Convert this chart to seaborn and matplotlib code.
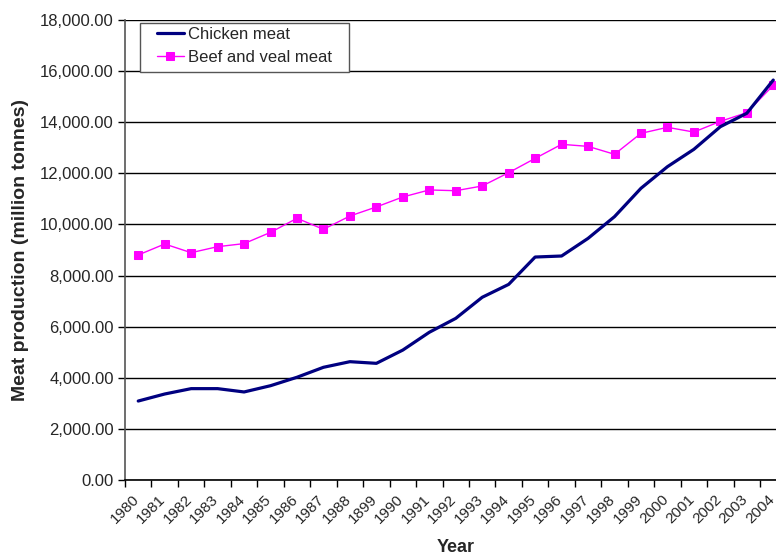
import matplotlib
matplotlib.use("Agg")
import matplotlib.pyplot as plt
import matplotlib.transforms as mtransforms
from matplotlib.patches import Rectangle
import seaborn as sns
import pandas as pd
import numpy as np
from matplotlib.ticker import FuncFormatter

years = ["1980", "1981", "1982", "1983", "1984", "1985", "1986", "1987", "1988", "1899",
         "1990", "1991", "1992", "1993", "1994", "1995", "1996", "1997", "1998", "1999",
         "2000", "2001", "2002", "2003", "2004"]
chicken = [3090, 3365, 3575, 3575, 3445, 3690, 4020, 4410, 4630, 4565,
           5085, 5780, 6325, 7150, 7655, 8725, 8765, 9455, 10305, 11415,
           12260, 12940, 13825, 14350, 15650]
beef = [8805, 9235, 8895, 9130, 9250, 9690, 10240, 9810, 10330, 10685,
        11075, 11350, 11320, 11505, 12025, 12585, 13135, 13055, 12745, 13565,
        13800, 13615, 14035, 14375, 15445]

sns.set_style("white")
plt.rcParams['font.family'] = ['Liberation Sans', 'DejaVu Sans']

pos = np.arange(len(years)) + 0.5
df = pd.DataFrame({
    "pos": np.concatenate([pos, pos]),
    "value": chicken + beef,
    "series": ["Chicken meat"] * len(years) + ["Beef and veal meat"] * len(years),
})

fig = plt.figure(figsize=(7.76, 5.56), dpi=100)
W, H = 776, 556
cat_w = 26.46
left_px, bottom_px, top_px = 125, 480, 20
ax = fig.add_axes([left_px / W, (H - bottom_px) / H, cat_w * len(years) / W, (bottom_px - top_px) / H])

sns.lineplot(data=df[df.series == "Chicken meat"], x="pos", y="value", ax=ax,
             color="#000080", linewidth=2.3, label="Chicken meat", zorder=4)
sns.lineplot(data=df[df.series == "Beef and veal meat"], x="pos", y="value", ax=ax,
             color="#FF00FF", linewidth=1.0, marker="s", markersize=5.5,
             markeredgecolor="#FF00FF", label="Beef and veal meat", zorder=3)

ax.set_xlim(0, len(years))
ax.set_ylim(0, 18000)
ax.set_yticks(np.arange(0, 18001, 2000))
ax.yaxis.set_major_formatter(FuncFormatter(lambda v, p: f"{v:,.2f}"))
ax.set_xticks(np.arange(len(years)))
ax.set_xticklabels(years, rotation=45, ha="right", rotation_mode="anchor")
ax.tick_params(axis="both", which="major", direction="out", length=5, width=1,
               color="black", pad=3, left=True, bottom=True)
ax.tick_params(axis="y", labelsize=12)
ax.tick_params(axis="x", labelsize=11, pad=4)
offset = mtransforms.ScaledTranslation(7 / 100, 0, fig.dpi_scale_trans)
for lbl in ax.get_xticklabels():
    lbl.set_transform(lbl.get_transform() + offset)

ax.yaxis.grid(True, color="black", linewidth=1.0)
ax.xaxis.grid(False)
ax.set_axisbelow(True)
for s in ["top", "right"]:
    ax.spines[s].set_visible(False)
ax.spines["left"].set_color("#555555")
ax.spines["bottom"].set_color("black")
ax.spines["left"].set_linewidth(1.2)
ax.spines["bottom"].set_linewidth(1.2)

ax.set_xlabel("Year", fontsize=13, fontweight="bold", labelpad=9)
ax.set_ylabel("Meat production (million tonnes)", fontsize=14, fontweight="bold", labelpad=8)

ax.get_legend().remove()
handles, labels = ax.get_legend_handles_labels()
leg = fig.legend(handles, labels, loc="upper left",
                 bbox_to_anchor=(157 / W, 1 - 27 / H), bbox_transform=fig.transFigure,
                 frameon=False, fontsize=12, borderpad=0, handlelength=1.6,
                 labelspacing=0.45, handletextpad=0.25, borderaxespad=0)
frame = Rectangle((140 / W, 1 - 72 / H), (349 - 140) / W, (72 - 23) / H,
                  transform=fig.transFigure, facecolor="white", edgecolor="#555555",
                  linewidth=1.0, zorder=5)
fig.patches.append(frame)
leg.set_zorder(6)

fig.savefig("out.png", dpi=100)
